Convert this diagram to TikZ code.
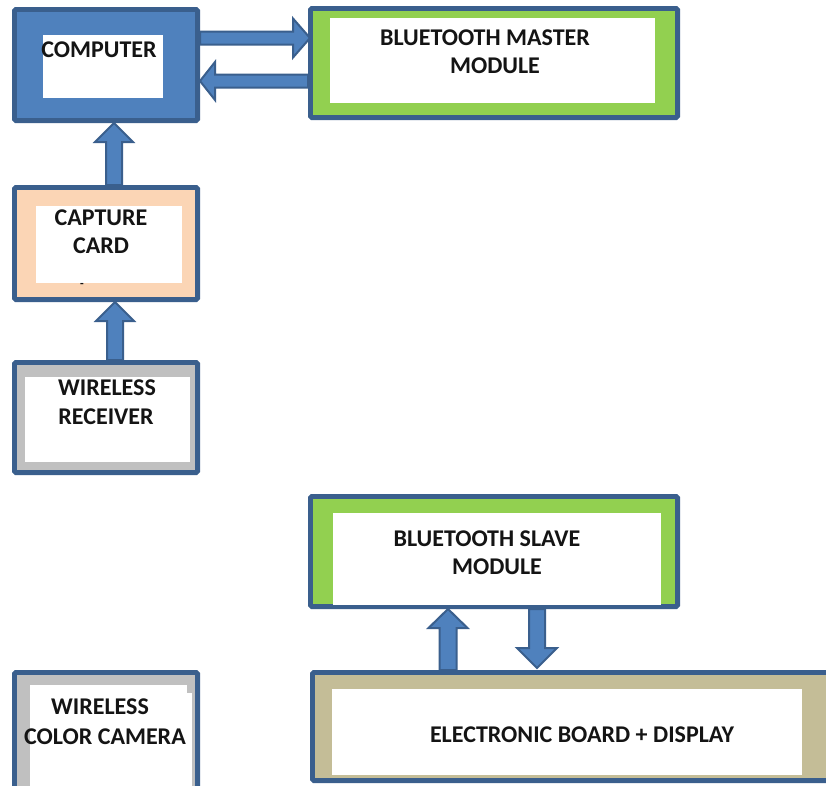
\documentclass[tikz,border=0pt]{standalone}
\usepackage{fontspec}
\setmainfont{Carlito}
\usetikzlibrary{calc}
\definecolor{cEdge}{HTML}{3A5F8D}
\definecolor{cBlue}{HTML}{4F81BD}
\definecolor{cGreen}{HTML}{92D050}
\definecolor{cPeach}{HTML}{FBD5B5}
\definecolor{cGrey}{HTML}{C0C0C0}
\definecolor{cTan}{HTML}{C4BD97}
\definecolor{cText}{HTML}{141414}
% block arrow: #1 start, #2 end, #3 shaft half width, #4 head half width, #5 head length
\newcommand\blockarrow[5]{%
  \path let \p1=($(#2)-(#1)$) in \pgfextra{%
    \pgfmathsetmacro\barrlen{veclen(\x1,\y1)}%
    \pgfmathsetmacro\barrang{atan2(\y1,\x1)}%
    \global\let\barrlenG\barrlen\global\let\barrangG\barrang};
  \draw[blockarr, shift={(#1)}, rotate=\barrangG, x=1pt, y=1pt]
    (0,-#3) -- ({\barrlenG-#5},-#3) -- ({\barrlenG-#5},-#4) -- (\barrlenG,0)
    -- ({\barrlenG-#5},#4) -- ({\barrlenG-#5},#3) -- (0,#3) -- cycle;
}
\begin{document}
\begin{tikzpicture}[x=1pt,y=-1pt,
  box/.style={draw=cEdge, line width=4.8pt, rounded corners=1.5pt, inner sep=0pt},
  lbl/.style={inner sep=0pt, font=\bfseries\fontsize{24}{28}\selectfont, text=cText},
  blockarr/.style={fill=cBlue, draw=cEdge, line width=2pt, line join=miter}]
\useasboundingbox[fill=white] (0,0) rectangle (826,785);

% boxes
\node[box, fill=cBlue, minimum width=183.2pt, minimum height=111.2pt] (comp) at (106,65) {};
\fill[white] (43,35) rectangle (163,98);
\node[box, fill=cGreen, minimum width=367.2pt, minimum height=109.2pt] (master) at (494,63) {};
\fill[white] (330,18) rectangle (655,103);
\node[box, fill=cPeach, minimum width=183.2pt, minimum height=112.2pt] (capture) at (106,243.5) {};
\fill[white] (36,206) rectangle (182,283);
\node[box, fill=cGrey, minimum width=183.2pt, minimum height=110.2pt] (receiver) at (106,417.5) {};
\fill[white] (25,377) rectangle (190,462);
\node[box, fill=cGreen, minimum width=367.2pt, minimum height=110.2pt] (slave) at (494,551.5) {};
\fill[white] (333,513) rectangle (661,604.5);
\node[box, fill=cTan, minimum width=535.2pt, minimum height=108.2pt] (board) at (580,726.5) {};
\fill[white] (332,689) rectangle (802,775);
\node[box, fill=cGrey, minimum width=183.2pt, minimum height=133.2pt] (camera) at (106,739) {};
\fill[white] (30,685) rectangle (192,803);
\fill[cGrey] (187,685) rectangle (192,693);

% labels
\node[lbl] (tcomp) at (99,50) {COMPUTER};
\node[lbl] (tmaster1) at (485,38) {BLUETOOTH MASTER};
\node[lbl] (tmaster2) at (495,66) {MODULE};
\node[lbl] (tcap1) at (101,218) {CAPTURE};
\node[lbl] (tcap2) at (101,246) {CARD};
\node[lbl, font=\bfseries\fontsize{12}{12}\selectfont] (tcap3) at (82,285) {-};
\node[lbl] (trec1) at (107,388) {WIRELESS};
\node[lbl] (trec2) at (106,417) {RECEIVER};
\node[lbl] (tslave1) at (487,539) {BLUETOOTH SLAVE};
\node[lbl] (tslave2) at (497,567) {MODULE};
\node[lbl] (tboard) at (582,735) {ELECTRONIC BOARD + DISPLAY};
\node[lbl] (tcam1) at (100,707) {WIRELESS};
\node[lbl] (tcam2) at (105,737) {COLOR CAMERA};

% connectors
\coordinate (a1s) at (comp.east |- 0,38);
\coordinate (a1e) at ([xshift=2pt]master.west |- 0,38);
\coordinate (a2s) at (master.west |- 0,81);
\coordinate (a2e) at (comp.east |- 0,81);
\coordinate (a3s) at (capture.north -| 114,0);
\coordinate (a3e) at (comp.south -| 114,0);
\coordinate (a4s) at (receiver.north -| 115,0);
\coordinate (a4e) at (capture.south -| 115,0);
\coordinate (a5s) at (board.north -| 448,0);
\coordinate (a5e) at (slave.south -| 448,0);
\coordinate (a6s) at (slave.south -| 537,0);
\coordinate (a6e) at ([yshift=2pt]board.north -| 537,0);
\blockarrow{a1s}{a1e}{6.5}{19.5}{17}
\blockarrow{a2s}{a2e}{6.5}{19}{15}
\blockarrow{a3s}{a3e}{8}{19}{19}
\blockarrow{a4s}{a4e}{8}{19}{19}
\blockarrow{a5s}{a5e}{8.5}{19.5}{19}
\blockarrow{a6s}{a6e}{8}{20}{20}
\end{tikzpicture}
\end{document}
